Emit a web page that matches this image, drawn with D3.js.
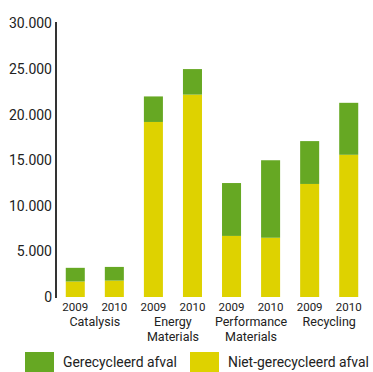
<!DOCTYPE html>
<html>
<head>
<meta charset="utf-8">
<script src="https://cdn.jsdelivr.net/npm/d3@7"></script>
<style>
  html, body { margin: 0; padding: 0; background: #fff; }
  svg { display: block; }
  text { font-family: Roboto, "Open Sans", sans-serif; fill: #222; }
</style>
</head>
<body>
<svg id="chart" width="373" height="372"></svg>
<script>
// Waste per business unit, 2009 vs 2010 (tonnes)
const groups = ["Catalysis", "Energy Materials", "Performance Materials", "Recycling"];
const groupLines = [["Catalysis"], ["Energy", "Materials"], ["Performance", "Materials"], ["Recycling"]];
const years = ["2009", "2010"];
const nietGerecycleerd = [1700, 1800, 19200, 22200, 6700, 6500, 12400, 15600];
const gerecycleerd = [1500, 1500, 2800, 2800, 5800, 8500, 4700, 5700];
const yTicks = [0, 5000, 10000, 15000, 20000, 25000, 30000];
const seriesNames = ["Gerecycleerd afval", "Niet-gerecycleerd afval"];
const colors = { recycled: "#66a823", notRecycled: "#ded200" };

const rows = [];
groups.forEach((g, gi) => years.forEach((y, yi) => {
  const i = gi * 2 + yi;
  rows.push({ key: g + "-" + y, group: gi, year: y, niet: nietGerecycleerd[i], ger: gerecycleerd[i] });
}));

const svg = d3.select("#chart");
const x = d3.scaleBand().domain(rows.map(d => d.key)).range([56, 368]).paddingInner(0.513).paddingOuter(0.25);
const y = d3.scaleLinear().domain([0, 30000]).range([297, 23.5]);

const stack = d3.stack().keys(["niet", "ger"])(rows);
const fill = { niet: colors.notRecycled, ger: colors.recycled };

svg.append("g").selectAll("g").data(stack).join("g")
  .attr("fill", s => fill[s.key])
  .selectAll("rect").data(s => s).join("rect")
  .attr("x", d => x(d.data.key))
  .attr("width", x.bandwidth())
  .attr("y", d => y(d[1]))
  .attr("height", d => y(d[0]) - y(d[1]));

// y axis
const fmt = v => d3.format(",")(v).replace(/,/g, ".");
const yAxis = svg.append("g").attr("transform", "translate(56,0)")
  .call(d3.axisLeft(y).tickValues(yTicks).tickFormat(fmt).tickSize(0).tickPadding(4));
yAxis.select(".domain").attr("stroke", "#000").attr("stroke-width", 1.6).attr("d", `M0,${y(30000) - 1.5}V${y(0) + 1}`);
yAxis.selectAll("text").style("font-family", "Roboto, 'Open Sans', sans-serif").style("font-size", "14px").attr("fill", "#222");

// year labels
svg.append("g").selectAll("text").data(rows).join("text")
  .attr("x", d => x(d.key) + x.bandwidth() / 2)
  .attr("y", 311)
  .attr("text-anchor", "middle")
  .style("font-size", "11.5px")
  .text(d => d.year);

// group labels
groupLines.forEach((lines, gi) => {
  const cx = (x(rows[gi * 2].key) + x(rows[gi * 2 + 1].key) + x.bandwidth()) / 2;
  lines.forEach((l, li) => {
    svg.append("text").attr("x", cx).attr("y", 326 + li * 15)
      .attr("text-anchor", "middle").style("font-size", "12.5px").text(l);
  });
});

// legend: labels are squeezed horizontally to a condensed width
const legend = [
  { name: seriesNames[0], color: colors.recycled, x: 25, w: 114 },
  { name: seriesNames[1], color: colors.notRecycled, x: 190, w: 141 }
];
const lg = svg.append("g").selectAll("g").data(legend).join("g")
  .attr("transform", d => `translate(${d.x},352)`);
lg.append("rect").attr("width", 29).attr("height", 20).attr("fill", d => d.color);
lg.append("text").style("font-size", "15px")
  .text(d => d.name)
  .attr("transform", function (d) {
    const k = d.w / this.getComputedTextLength();
    return `translate(38,14.5) scale(${k},1)`;
  });
</script>
</body>
</html>
